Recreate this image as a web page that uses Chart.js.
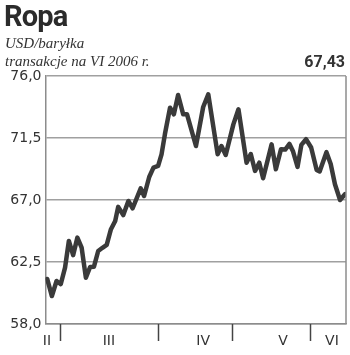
<!DOCTYPE html>
<html>
<head>
<meta charset="utf-8">
<script src="https://cdn.jsdelivr.net/npm/chart.js@4"></script>
<style>
  html, body { margin: 0; padding: 0; background: #fff; }
  #wrap { position: relative; width: 350px; height: 355px; }
  #chart { position: absolute; left: 0; top: 0; }
  .title { position: absolute; left: 4px; top: -1px; font: bold 29px Roboto, sans-serif; color: #2b2b2b; letter-spacing: -0.8px; }
  .sub { position: absolute; left: 5px; font: italic 15px "Liberation Serif", serif; color: #333; }
  .last { position: absolute; right: 5px; top: 52px; font: bold 16px Roboto, sans-serif; color: #333; }
</style>
</head>
<body>
<div id="wrap">
  <canvas id="chart" width="350" height="355"></canvas>
  <div class="title">Ropa</div>
  <div class="sub" style="top:35px">USD/baryłka</div>
  <div class="sub" style="top:53px">transakcje na VI 2006 r.</div>
  <div class="last">67,43</div>
</div>
<script>
// trading day index (from end of February) and price in USD
var days = [0.4, 1.5, 2.6, 3.6, 4.6, 5.5, 6.5, 7.5, 8.5, 9.5, 10.5, 11.4, 12.4, 13.4, 14.4,
  15.4, 16.4, 17.1, 18.3, 19.5, 20.5, 22.4, 23.2, 24.4, 25.4, 26.5, 27.3, 28.1, 29.3, 30.2,
  31.2, 32.4, 33.3, 35.4, 37.1, 38.3, 40.5, 41.4, 42.4, 44.2, 45.4, 47.3, 48.3, 49.3, 50.3,
  51.2, 53.2, 54.2, 55.4, 56.4, 57.4, 58.2, 59.3, 60.2, 61.3, 62.5, 63.8, 64.5, 66.1, 67.1,
  68.1, 69.3, 70.5];
var prices = [61.27, 60.03, 61.12, 60.9, 62.09, 64.03, 63.0, 64.27, 63.54, 61.36, 62.14, 62.16, 63.3, 63.53, 63.74,
  64.88, 65.48, 66.5, 65.91, 66.93, 66.4, 67.85, 67.29, 68.67, 69.35, 69.47, 70.32, 71.79, 73.7, 73.22,
  74.62, 73.22, 73.22, 70.92, 73.75, 74.67, 70.32, 70.92, 70.27, 72.49, 73.58, 69.71, 70.34, 69.11, 69.71,
  68.58, 71.04, 69.23, 70.68, 70.66, 71.07, 70.56, 69.4, 71.0, 71.41, 70.81, 69.18, 69.07, 70.47, 69.61,
  68.14, 67.0, 67.43];

var monthLabels = ["II", "III", "IV", "V", "VI"];
var monthCenters = [0.35, 14.9, 37.1, 55.9, 67.4];
var monthBreaks = [3.41, 26.47, 43.88, 62.24];
var yTicks = [58.0, 62.5, 67.0, 71.5, 76.0];

var points = days.map(function (d, i) { return { x: d, y: prices[i] }; });

var frame = {
  id: "frame",
  afterDraw: function (chart) {
    var ctx = chart.ctx, a = chart.chartArea, xs = chart.scales.x;
    ctx.save();
    ctx.strokeStyle = "#8c8c8c";
    ctx.lineWidth = 1.5;
    ctx.beginPath();
    ctx.moveTo(a.right, a.top);
    ctx.lineTo(a.right, a.bottom);
    ctx.stroke();
    ctx.strokeStyle = "#444";
    ctx.lineWidth = 1.5;
    monthBreaks.forEach(function (b) {
      var px = Math.round(xs.getPixelForValue(b)) + 0.5;
      ctx.beginPath();
      ctx.moveTo(px, a.bottom);
      ctx.lineTo(px, a.bottom + 17);
      ctx.stroke();
    });
    ctx.restore();
  }
};

new Chart(document.getElementById("chart"), {
  type: "line",
  data: {
    datasets: [{
      data: points,
      borderColor: "#3a3a3a",
      borderWidth: 4.5,
      borderJoinStyle: "round",
      borderCapStyle: "round",
      pointRadius: 0,
      tension: 0,
      fill: false
    }]
  },
  options: {
    responsive: false,
    animation: false,
    events: [],
    layout: { padding: { top: 76, right: 4, left: 0, bottom: 0 } },
    plugins: { legend: { display: false }, tooltip: { enabled: false } },
    scales: {
      x: {
        type: "linear",
        min: 0,
        max: 70.7,
        afterBuildTicks: function (scale) {
          scale.ticks = monthCenters.map(function (v) { return { value: v }; });
        },
        afterFit: function (scale) { scale.height = 31; },
        grid: { display: false, drawTicks: false },
        border: { display: true, color: "#8c8c8c", width: 1.5 },
        ticks: {
          autoSkip: false,
          maxRotation: 0,
          padding: 9,
          color: "#333",
          font: { family: "DejaVu Sans", size: 14 },
          callback: function (v, i) { return monthLabels[i]; }
        }
      },
      y: {
        min: 58,
        max: 76,
        afterBuildTicks: function (scale) {
          scale.ticks = yTicks.map(function (v) { return { value: v }; });
        },
        afterFit: function (scale) { scale.width = 45.5; },
        grid: { color: "#a0a0a0", lineWidth: 1.5, drawTicks: false },
        border: { display: true, color: "#8c8c8c", width: 1.5 },
        ticks: {
          padding: 4,
          color: "#333",
          font: { family: "DejaVu Sans", size: 14 },
          callback: function (v) { return v.toFixed(1).replace(".", ","); }
        }
      }
    }
  },
  plugins: [frame]
});
</script>
</body>
</html>
